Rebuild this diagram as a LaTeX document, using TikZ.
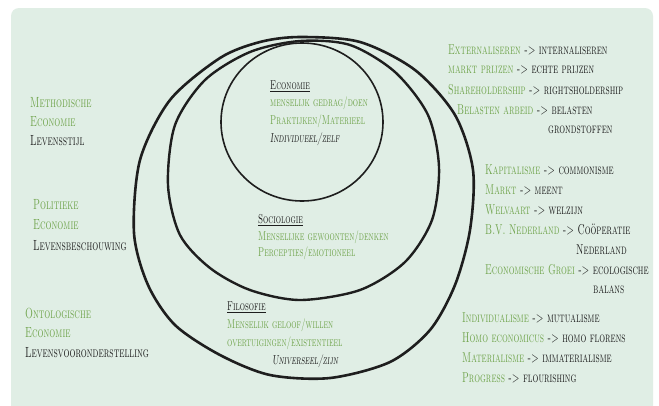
\documentclass[tikz,border=0pt]{standalone}
\usepackage{xcolor}
\definecolor{groen}{RGB}{112,164,76}
\definecolor{donker}{RGB}{30,30,30}
\definecolor{achtergrond}{RGB}{224,238,229}
\newcommand*{\groen}[1]{\textcolor{groen}{#1}}
\newcommand*{\hand}[1]{\scalebox{0.64}[1]{\scshape #1}}
\usepackage{graphicx}
\usepackage{tikz}

\begin{document}
\begin{tikzpicture}[x=1pt,y=-1pt,
    tekst/.style={anchor=west,inner sep=0pt,text=donker,font=\fontsize{14.3}{16}\selectfont},
    links/.style={tekst,font=\fontsize{14.7}{16}\selectfont},
    klein/.style={tekst,font=\fontsize{12.9}{15}\selectfont}]
  \useasboundingbox (0,0) rectangle (659,405);
  \fill[white] (0,0) rectangle (659,405);
  \fill[achtergrond,rounded corners=8pt] (11,8) rectangle (653,420);

  \draw[donker,line width=2.6pt] plot[smooth cycle] coordinates {(300,37) (360,42) (415,70) (455,115)
    (473,170) (470,230) (455,285) (430,330) (390,362) (330,378) (270,375) (220,355) (175,325)
    (148,285) (134,233) (140,160) (170,100) (220,58) (260,42)};
  \draw[donker,line width=2.4pt] plot[smooth cycle] coordinates {(300,41) (350,45) (395,72) (428,115)
    (439,167) (432,220) (405,262) (360,290) (300,300) (250,290) (210,268) (180,235) (168,185)
    (175,125) (205,80) (250,52)};
  \draw[donker,line width=1.6pt] (302,122) ellipse [x radius=81,y radius=79];

  \node[links] (meth1) at (30,103) {\hand{\groen{Methodische}}};
  \node[links] (meth2) at (30,122) {\hand{\groen{Economie}}};
  \node[links] (meth3) at (30,141) {\hand{Levensstijl}};
  \node[links] (pol1) at (33,205) {\hand{\groen{Politieke}}};
  \node[links] (pol2) at (33,225) {\hand{\groen{Economie}}};
  \node[links] (pol3) at (33,246) {\hand{Levensbeschouwing}};
  \node[links] (ont1) at (25,313) {\hand{\groen{Ontologische}}};
  \node[links] (ont2) at (25,333) {\hand{\groen{Economie}}};
  \node[links] (ont3) at (25,353) {\hand{Levensvooronderstelling}};

  \node[klein] (eco) at (270,86) {\hand{\underline{Economie}}};
  \node[klein] (eco1) at (270,103) {\hand{\groen{menselijk gedrag/doen}}};
  \node[klein] (eco2) at (270,121) {\hand{\groen{Praktijken/Materieel}}};
  \node[klein] (eco3) at (270,139) {\hand{\slshape Individueel/zelf}};
  \node[klein] (soc) at (258,220) {\hand{\underline{Sociologie}}};
  \node[klein] (soc1) at (258,237) {\hand{\groen{Menselijke gewoonten/denken}}};
  \node[klein] (soc2) at (258,253) {\hand{\groen{Percepties/emotioneel}}};
  \node[klein] (fil) at (227,307) {\hand{\underline{Filosofie}}};
  \node[klein] (fil1) at (227,325) {\hand{\groen{Menselijk geloof/willen}}};
  \node[klein] (fil2) at (227,343) {\hand{\groen{overtuigingen/existentieel}}};
  \node[klein] (fil3) at (272,361) {\hand{\slshape Universeel/zijn}};

  \node[tekst] (ext) at (448,50) {\hand{\groen{Externaliseren} -> internaliseren}};
  \node[tekst] (mprijs) at (448,70) {\hand{\groen{markt prijzen} -> echte prijzen}};
  \node[tekst] (share) at (448,90) {\hand{\groen{Shareholdership} -> rightsholdership}};
  \node[tekst] (belast) at (457,110) {\hand{\groen{Belasten arbeid} -> belasten}};
  \node[tekst] (grond) at (548,130) {\hand{grondstoffen}};
  \node[tekst] (kapit) at (485,170) {\hand{\groen{Kapitalisme} -> commonisme}};
  \node[tekst] (markt) at (485,190) {\hand{\groen{Markt} -> meent}};
  \node[tekst] (welv) at (485,210) {\hand{\groen{Welvaart} -> welzijn}};
  \node[tekst] (bv) at (485,230) {\hand{\groen{B.V. Nederland} -> Coöperatie}};
  \node[tekst] (ned) at (576,250) {\hand{Nederland}};
  \node[tekst] (groei) at (485,270) {\hand{\groen{Economische Groei} -> ecologische}};
  \node[tekst] (balans) at (593,290) {\hand{balans}};
  \node[tekst] (indiv) at (462,318) {\hand{\groen{Individualisme} -> mutualisme}};
  \node[tekst] (homo) at (462,338) {\hand{\groen{Homo economicus} -> homo florens}};
  \node[tekst] (mater) at (462,358) {\hand{\groen{Materialisme} -> immaterialisme}};
  \node[tekst] (progr) at (462,378) {\hand{\groen{Progress} -> flourishing}};
\end{tikzpicture}
\end{document}
